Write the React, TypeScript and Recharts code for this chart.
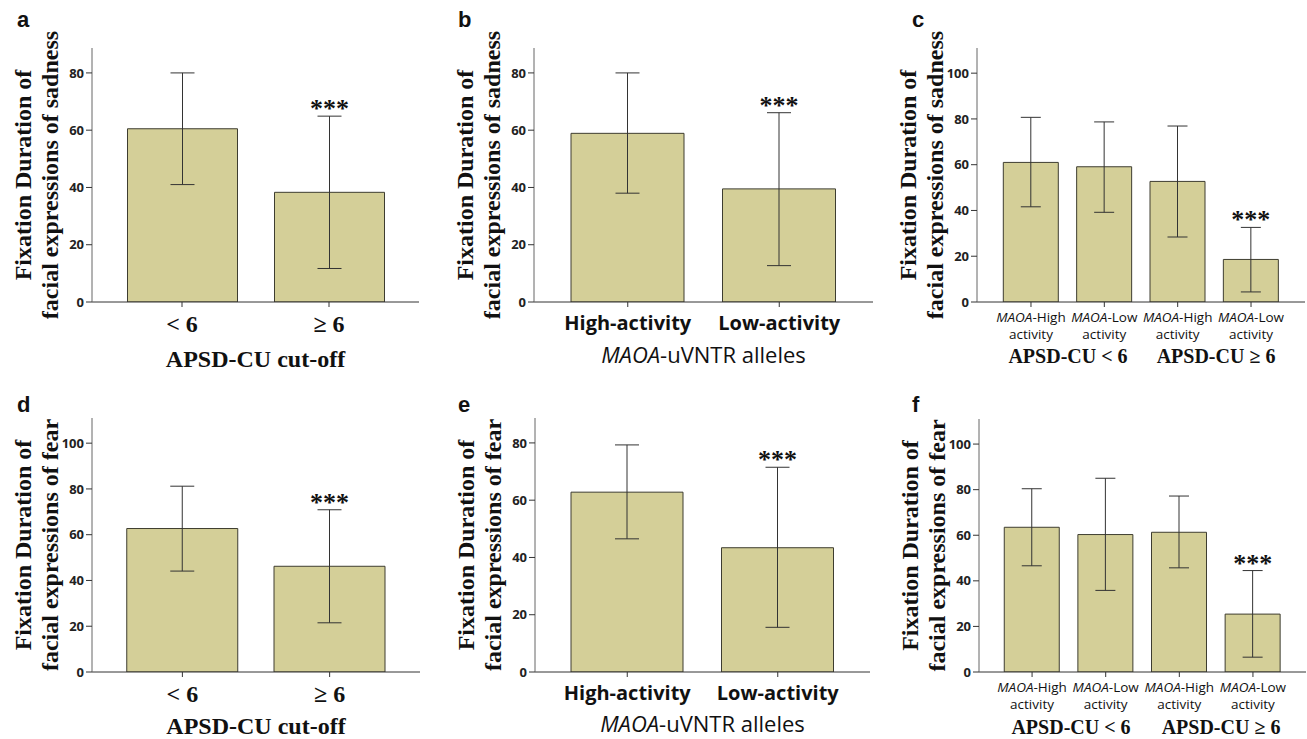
import React from "react";
import { BarChart, Bar, XAxis, YAxis, ErrorBar, LabelList } from "recharts";

const SERIF = '"Liberation Serif", "Times New Roman", serif';
const SANS = '"Open Sans", "Liberation Sans", sans-serif';
const LETTER_FONT = '"Liberation Sans", Arial, sans-serif';
const BAR_FILL = "#d4cf98";
const BAR_LINE = "#3e3d30";
const FRAME = "#666";
const INK = "#111";

// categories
const cutoffLabels = ["< 6", "≥ 6"];
const alleleLabels = ["High-activity", "Low-activity"];
const comboLabels = ["MAOA-High activity", "MAOA-Low activity", "MAOA-High activity", "MAOA-Low activity"];
const comboGroups = ["APSD-CU < 6", "APSD-CU ≥ 6"];

// sadness
const sadCutMean = [60.5, 38.3];
const sadCutLow = [41.0, 11.7];
const sadCutHigh = [80.0, 64.9];
const sadAlleleMean = [58.9, 39.5];
const sadAlleleLow = [38.0, 12.7];
const sadAlleleHigh = [80.0, 66.1];
const sadComboMean = [61.0, 59.1, 52.7, 18.6];
const sadComboLow = [41.6, 39.2, 28.4, 4.4];
const sadComboHigh = [80.7, 78.7, 76.9, 32.6];

// fear
const fearCutMean = [62.7, 46.2];
const fearCutLow = [44.1, 21.5];
const fearCutHigh = [81.2, 70.9];
const fearAlleleMean = [62.8, 43.4];
const fearAlleleLow = [46.5, 15.6];
const fearAlleleHigh = [79.3, 71.5];
const fearComboMean = [63.5, 60.3, 61.3, 25.4];
const fearComboLow = [46.6, 35.8, 45.7, 6.5];
const fearComboHigh = [80.4, 85.0, 77.2, 44.5];

// significance marks
const sig2 = ["", "***"];
const sig4 = ["", "", "", "***"];

// y ticks
const ticks80 = [0, 20, 40, 60, 80];
const ticks100 = [0, 20, 40, 60, 80, 100];

type Kind = "cut" | "allele" | "combo";
type Spec = {
  letter: string; lx: number; ly: number;
  x: number; y: number; w: number; h: number;
  box: { l: number; t: number; r: number; b: number };
  labels: string[]; mean: number[]; low: number[]; high: number[]; sig: string[];
  yMax: number; yTicks: number[];
  barSize: number; pad: number; cap: number;
  kind: Kind; emotion: string; titleDy: number; groupX?: number[];
};

const panels: Spec[] = [
  { letter: "a", lx: 17, ly: 27, x: 0, y: 0, w: 440, h: 370, box: { l: 92, t: 48, r: 419, b: 302 },
    labels: cutoffLabels, mean: sadCutMean, low: sadCutLow, high: sadCutHigh, sig: sig2,
    yMax: 88.7, yTicks: ticks80, barSize: 110, pad: 16.5, cap: 12, kind: "cut", emotion: "sadness", titleDy: 65 },
  { letter: "b", lx: 18, ly: 27, x: 440, y: 0, w: 440, h: 370, box: { l: 534, t: 48, r: 873, b: 302 },
    labels: alleleLabels, mean: sadAlleleMean, low: sadAlleleLow, high: sadAlleleHigh, sig: sig2,
    yMax: 88.7, yTicks: ticks80, barSize: 113, pad: 18, cap: 12, kind: "allele", emotion: "sadness", titleDy: 61 },
  { letter: "c", lx: 32, ly: 27, x: 880, y: 0, w: 427, h: 370, box: { l: 977, t: 48, r: 1305, b: 302 },
    labels: comboLabels, mean: sadComboMean, low: sadComboLow, high: sadComboHigh, sig: sig4,
    yMax: 111, yTicks: ticks100, barSize: 55, pad: 17.3, cap: 10, kind: "combo", emotion: "sadness", titleDy: 61, groupX: [188, 336] },
  { letter: "d", lx: 17, ly: 42, x: 0, y: 370, w: 440, h: 369, box: { l: 92, t: 418, r: 420, b: 672 },
    labels: cutoffLabels, mean: fearCutMean, low: fearCutLow, high: fearCutHigh, sig: sig2,
    yMax: 111, yTicks: ticks100, barSize: 111, pad: 16.75, cap: 12, kind: "cut", emotion: "fear", titleDy: 62 },
  { letter: "e", lx: 18, ly: 42, x: 440, y: 370, w: 440, h: 369, box: { l: 535, t: 418, r: 870, b: 672 },
    labels: alleleLabels, mean: fearAlleleMean, low: fearAlleleLow, high: fearAlleleHigh, sig: sig2,
    yMax: 88.7, yTicks: ticks80, barSize: 112, pad: 17, cap: 12, kind: "allele", emotion: "fear", titleDy: 60 },
  { letter: "f", lx: 32, ly: 42, x: 880, y: 370, w: 427, h: 369, box: { l: 979, t: 419, r: 1306, b: 672 },
    labels: comboLabels, mean: fearComboMean, low: fearComboLow, high: fearComboHigh, sig: sig4,
    yMax: 111, yTicks: ticks100, barSize: 55, pad: 16.25, cap: 10, kind: "combo", emotion: "fear", titleDy: 62, groupX: [191, 341] },
];

function Panel({ s }: { s: Spec }) {
  const data = s.labels.map((name, i) => ({
    name,
    mean: s.mean[i],
    err: [s.mean[i] - s.low[i], s.high[i] - s.mean[i]],
    sig: s.sig[i],
  }));
  const YW = 40;
  const XH = 60;
  const lb = s.box.l - s.x;
  const tb = s.box.t - s.y;
  const rb = s.box.r - s.x;
  const bb = s.box.b - s.y;
  const margin = { left: lb - YW, top: tb, right: s.w - rb, bottom: s.h - bb - XH };

  const renderTick = (p: any) => {
    const x = p.x;
    const v = String(p.payload.value);
    if (s.kind === "cut") {
      return (
        <text x={x} y={bb + 30} textAnchor="middle" fontFamily={SERIF} fontWeight={700} fontSize={24} fill={INK}>{v}</text>
      );
    }
    if (s.kind === "allele") {
      return (
        <text x={x} y={bb + 28} textAnchor="middle" fontFamily={SANS} fontWeight={700} fontSize={20} fill={INK}>{v}</text>
      );
    }
    const [head, tail] = v.split(" ");
    return (
      <g>
        <text x={x} y={bb + 20} textAnchor="middle" fontFamily={SANS} fontSize={13.5} fill={INK}>
          <tspan fontStyle="italic">{head.slice(0, 4)}</tspan>
          <tspan>{head.slice(4)}</tspan>
        </text>
        <text x={x} y={bb + 37} textAnchor="middle" fontFamily={SANS} fontSize={13.5} fill={INK}>{tail}</text>
      </g>
    );
  };

  const renderStars = (p: any) => {
    const i = p.index;
    if (i == null || !s.sig[i]) return null;
    const bx = Number(p.x) + Number(p.width) / 2;
    const h = Number(p.height);
    const yBase = Number(p.y) + h;
    const yHi = yBase - (h * s.high[i]) / s.mean[i];
    return (
      <text x={bx} y={yHi + 1} textAnchor="middle" fontFamily={SERIF} fontWeight={700} fontSize={26} fill={INK}>{s.sig[i]}</text>
    );
  };

  const cy = (tb + bb) / 2;

  return (
    <div style={{ position: "absolute", left: s.x, top: s.y, width: s.w, height: s.h }}>
      <BarChart width={s.w} height={s.h} data={data} margin={margin}>
        <XAxis
          dataKey="name"
          height={XH}
          interval={0}
          padding={{ left: s.pad, right: s.pad }}
          tickSize={5}
          tickLine={{ stroke: "#333" }}
          axisLine={{ stroke: "#333" }}
          tick={renderTick}
        />
        <XAxis xAxisId="top" orientation="top" dataKey="name" height={0} tick={false} tickLine={false} axisLine={{ stroke: FRAME }} />
        <YAxis
          type="number"
          width={YW}
          domain={[0, s.yMax]}
          ticks={s.yTicks}
          allowDataOverflow
          tickSize={6}
          tickMargin={2}
          tickLine={{ stroke: "#333" }}
          axisLine={{ stroke: FRAME }}
          tick={{ fontFamily: SANS, fontWeight: 700, fontSize: 13, fill: "#222" }}
        />
        <YAxis yAxisId="right" orientation="right" type="number" domain={[0, 1]} width={0} tick={false} tickLine={false} axisLine={{ stroke: FRAME }} />
        <Bar dataKey="mean" fill={BAR_FILL} stroke={BAR_LINE} strokeWidth={1} barSize={s.barSize} isAnimationActive={false}>
          <ErrorBar dataKey="err" width={s.cap} stroke="#333" strokeWidth={1} direction="y" isAnimationActive={false} />
          <LabelList dataKey="sig" content={renderStars} />
        </Bar>
      </BarChart>
      <svg width={s.w} height={s.h} style={{ position: "absolute", left: 0, top: 0, pointerEvents: "none", overflow: "visible" }}>
        <text x={s.lx} y={s.ly} fontFamily={LETTER_FONT} fontWeight={700} fontSize={22} fill={INK}>{s.letter}</text>
        <text transform={`translate(${lb - 61},${cy}) rotate(-90)`} textAnchor="middle" fontFamily={SERIF} fontWeight={700} fontSize={24} fill={INK}>
          Fixation Duration of
        </text>
        <text transform={`translate(${lb - 34},${cy}) rotate(-90)`} textAnchor="middle" fontFamily={SERIF} fontWeight={700} fontSize={24} fill={INK}>
          {`facial expressions of ${s.emotion}`}
        </text>
        {s.kind === "cut" && (
          <text x={(lb + rb) / 2} y={bb + s.titleDy} textAnchor="middle" fontFamily={SERIF} fontWeight={700} fontSize={24} fill={INK}>
            APSD-CU cut-off
          </text>
        )}
        {s.kind === "allele" && (
          <text x={(lb + rb) / 2} y={bb + s.titleDy} textAnchor="middle" fontFamily={SANS} fontSize={22} fill={INK}>
            <tspan fontStyle="italic">MAOA</tspan>
            <tspan>-uVNTR alleles</tspan>
          </text>
        )}
        {s.kind === "combo" && s.groupX &&
          comboGroups.map((g, i) => (
            <text key={g} x={s.groupX![i]} y={bb + s.titleDy} textAnchor="middle" fontFamily={SERIF} fontWeight={700} fontSize={20} fill={INK}>
              {g}
            </text>
          ))}
      </svg>
    </div>
  );
}

export default function App() {
  return (
    <div style={{ position: "absolute", left: 0, top: 0, width: 1307, height: 739, background: "#fff", overflow: "hidden" }}>
      {panels.map((s) => (
        <Panel key={s.letter} s={s} />
      ))}
    </div>
  );
}
